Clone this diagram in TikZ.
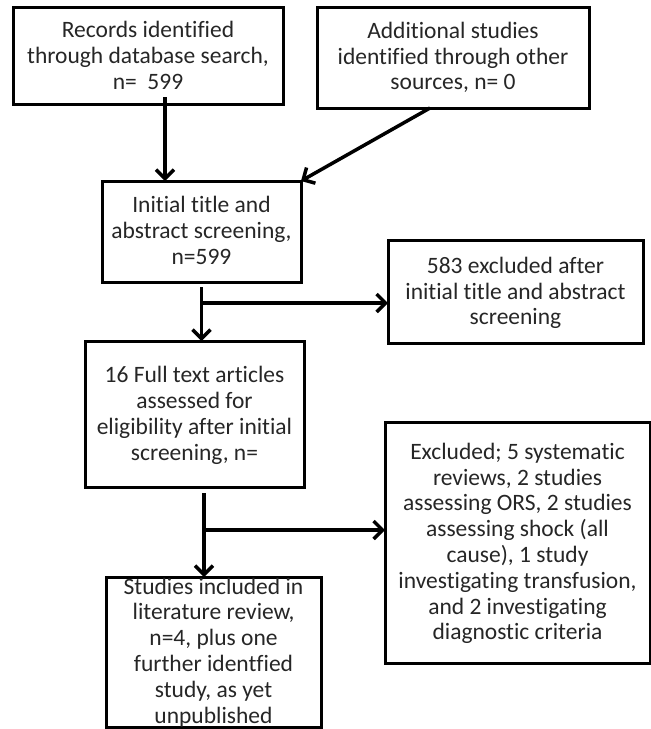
\documentclass[tikz,border=0pt]{standalone}
\usepackage{fontspec}
\setmainfont[Ligatures=NoCommon]{Carlito}
\usepackage{tikz}
\usetikzlibrary{arrows.meta, positioning}
\tikzset{
stage/.style={
    rectangle,
    draw=black,
    line width=3pt,
    outer sep=0pt,
    text=black!85,
    align=center,
    inner sep=0pt,
    font=\fontsize{23.5}{25.8}\selectfont
}}

\begin{document}
\begin{tikzpicture}[
        x=1pt, y=1pt,
        >={Straight Barb[length=9pt, width=18pt]},
        every path/.style={line width=3.5pt}
    ]
    \useasboundingbox (0,0) rectangle (651,-729);

    % node placement
    \node[stage, minimum width=270pt, minimum height=97pt] (rec) at (148,-55.5)
        {Records identified\\through database search,\\n=~~599};
    \node[stage, minimum width=272pt, minimum height=101pt, right=34pt of rec, yshift=-2pt] (add)
        {Additional studies\\identified through other\\sources, n= 0};

    \node[stage, minimum width=199pt, minimum height=101pt, text depth=2pt, below=77pt of rec, xshift=53.5pt] (init)
        {Initial title and\\abstract screening,\\n=599};
    \node[stage, minimum width=255pt, minimum height=103pt, text depth=1pt, right=87pt of init, yshift=-60pt] (exc1)
        {583 excluded after\\initial title and abstract\\screening};

    \node[stage, minimum width=219pt, minimum height=146pt, text depth=1pt, below=59pt of init, xshift=-7pt] (full)
        {16 Full text articles\\assessed for\\eligibility after initial\\screening, n=};
    \node[stage, minimum width=265pt, minimum height=241pt, text depth=2pt, right=81pt of full, yshift=-128.5pt] (exc2)
        {Excluded; 5 systematic\\reviews, 2 studies\\assessing ORS, 2 studies\\assessing shock (all\\cause), 1 study\\investigating transfusion,\\and 2 investigating\\diagnostic criteria};

    \node[stage, minimum width=215pt, minimum height=150pt, text height=144pt, text depth=2pt, below=90pt of full, xshift=19pt] (incl)
        {Studies included in\\literature review,\\n=4, plus one\\further identfied\\study, as yet\\unpublished};

    % edges
    \draw[->] ([xshift=17pt, yshift=7pt]rec.south) -- ([xshift=17pt]rec.south |- init.north);
    \draw[->] ([xshift=-23pt]add.south) -- (init.north east);

    \coordinate (b1) at ([yshift=-21pt]init.south);
    \draw[->] ([yshift=-5pt]init.south) -- (init.south |- full.north);
    \draw[->] (b1) -- (b1 -| exc1.west);

    \coordinate (b2) at ([xshift=9.5pt, yshift=-43pt]full.south);
    \draw[->] ([xshift=9.5pt, yshift=-6pt]full.south) -- ([xshift=9.5pt]full.south |- incl.north);
    \draw[->] (b2) -- (b2 -| exc2.west);

\end{tikzpicture}
\end{document}
